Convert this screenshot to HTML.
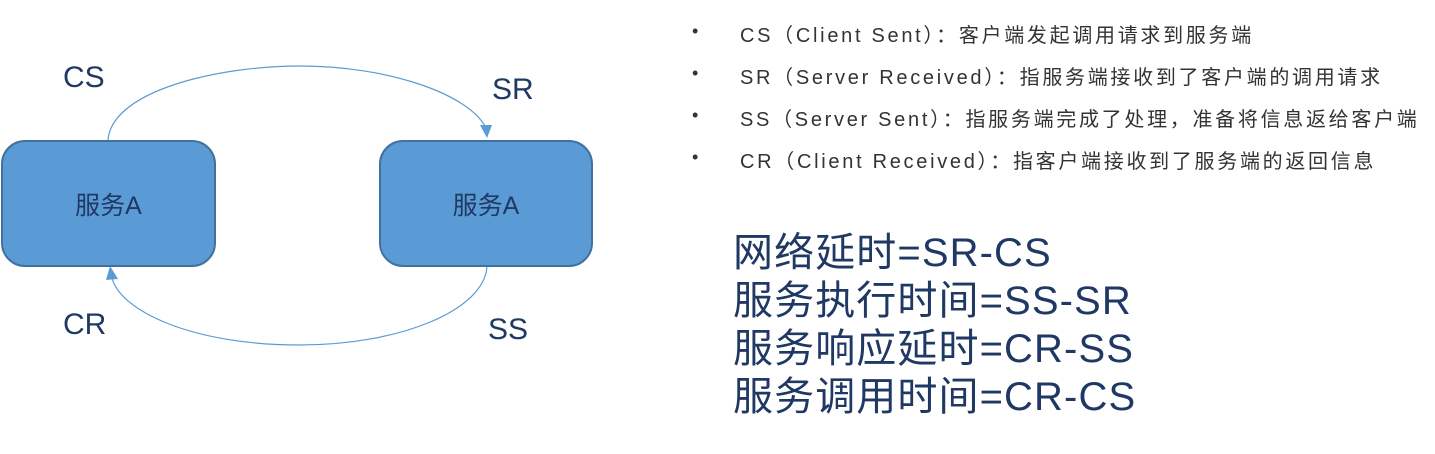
<!DOCTYPE html>
<html><head><meta charset="utf-8"><style>
body{margin:0;width:1435px;height:454px;background:#fff;position:relative;overflow:hidden;font-family:"Liberation Sans","Noto Sans CJK SC",sans-serif;color:#1f3864}
.box{position:absolute;background:#5b9bd5;border:2px solid #41719c;border-radius:24px;box-sizing:border-box;display:flex;align-items:center;justify-content:center;font-size:25px;color:#1f3864}
.lbl{position:absolute;font-size:30px;color:#1f3864}
.li{position:absolute;left:692px;font-size:20px;color:#333;white-space:nowrap}
.li span{position:absolute;left:0;top:2px;font-size:18px}
.li b{font-weight:normal;position:absolute;left:48px;letter-spacing:2.7px}
.f{position:absolute;left:733px;font-size:40px;letter-spacing:1.1px;color:#1f3864;line-height:48px;white-space:nowrap}
</style></head><body>
<svg width="1435" height="454" style="position:absolute;left:0;top:0">
<path d="M108,140 C112,90 220,66 300,66 C390,66 470,95 486,128" fill="none" stroke="#5b9bd5" stroke-width="1.2"/>
<polygon points="480,125 492,125 487,138" fill="#5b9bd5"/>
<path d="M487,266 C485,310 400,345 300,345 C190,345 120,310 112,278" fill="none" stroke="#5b9bd5" stroke-width="1.2"/>
<polygon points="106,280 118,279 110,266" fill="#5b9bd5"/>
</svg>
<div class="box" style="left:1px;top:140px;width:215px;height:127px">服务A</div>
<div class="box" style="left:379px;top:140px;width:214px;height:127px">服务A</div>
<div class="lbl" style="left:63px;top:61px">CS</div>
<div class="lbl" style="left:492px;top:73px">SR</div>
<div class="lbl" style="left:63px;top:308px">CR</div>
<div class="lbl" style="left:488px;top:313px">SS</div>
<div class="li" style="top:19px"><span>•</span><b>CS（Client Sent）：客户端发起调用请求到服务端</b></div>
<div class="li" style="top:61px"><span>•</span><b>SR（Server Received）：指服务端接收到了客户端的调用请求</b></div>
<div class="li" style="top:103px"><span>•</span><b>SS（Server Sent）：指服务端完成了处理，准备将信息返给客户端</b></div>
<div class="li" style="top:145px"><span>•</span><b>CR（Client Received）：指客户端接收到了服务端的返回信息</b></div>
<div class="f" style="top:229px">网络延时=SR-CS<br>服务执行时间=SS-SR<br>服务响应延时=CR-SS<br>服务调用时间=CR-CS</div>
</body></html>
